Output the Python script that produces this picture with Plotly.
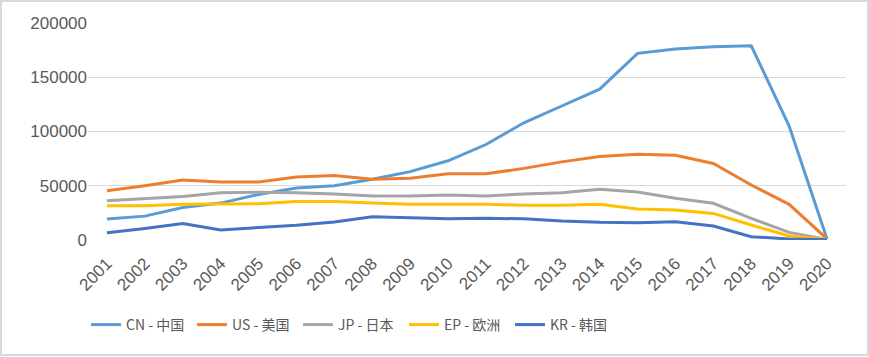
import plotly.graph_objects as go

years = [str(y) for y in range(2001, 2021)]
cn = [19400, 22000, 30000, 34000, 42000, 48000, 50000, 56000, 63000, 73000,
      88000, 108000, 123500, 139000, 172000, 176000, 178000, 179000, 105000, 1000]
us = [45400, 50000, 55300, 53500, 53500, 58000, 59500, 56000, 57000, 61000,
      61000, 66000, 72000, 77000, 79000, 78000, 70500, 50700, 32900, 1000]
jp = [36200, 38000, 40000, 43600, 44000, 43500, 42500, 40500, 40500, 41500,
      40500, 42500, 43500, 46700, 44200, 38400, 33800, 20000, 7000, 500]
ep = [31600, 31500, 33000, 33000, 33500, 35500, 35500, 34000, 33000, 33000,
      33000, 32000, 32000, 32900, 28600, 27600, 24500, 13800, 3700, 500]
kr = [6700, 10500, 15300, 9200, 11500, 13500, 16500, 21500, 20500, 19500,
      20000, 19500, 17500, 16300, 16000, 16900, 12900, 3000, 1000, 300]

names = ["CN - 中国", "US - 美国", "JP - 日本", "EP - 欧洲", "KR - 韩国"]
colors = ["#5B9BD5", "#ED7D31", "#A5A5A5", "#FFC000", "#4472C4"]
series = [cn, us, jp, ep, kr]

fig = go.Figure()
for n, c, s in zip(names, colors, series):
    fig.add_trace(go.Scatter(x=years, y=s, name=n, mode="lines",
                             line=dict(color=c, width=3)))

L, R, T, B = 88, 846, 23, 240
W, H = 869, 357
pw, ph = R - L, B - T

fig.update_layout(
    width=W, height=H,
    margin=dict(l=L, r=W - R, t=T, b=H - B, autoexpand=False),
    paper_bgcolor="white", plot_bgcolor="white",
    font=dict(family="Liberation Sans, Noto Sans CJK SC", color="#595959"),
    xaxis=dict(type="category", range=[-0.5, 19.5], showgrid=False,
               showline=False, ticks="outside", ticklen=6,
               tickcolor="rgba(0,0,0,0)", tickangle=-45, automargin=False,
               tickfont=dict(size=17, color="#595959"), zeroline=False),
    yaxis=dict(range=[0, 200000], dtick=50000, showgrid=True,
               gridcolor="#D9D9D9", gridwidth=1, zeroline=False,
               tickformat="d", tickfont=dict(size=17, color="#595959"),
               ticks="", showline=False, automargin=False),
    legend=dict(orientation="h", x=(86 - L) / pw, xanchor="left",
                y=(B - 325) / ph, yanchor="middle",
                font=dict(size=14, color="#595959",
                          family="Liberation Sans Narrow, Noto Sans CJK SC"),
                entrywidth=61, entrywidthmode="pixels", itemwidth=30,
                bgcolor="rgba(0,0,0,0)"),
    showlegend=True,
)

fig.add_shape(type="rect", xref="paper", yref="paper",
              x0=(1 - L) / pw, x1=(868 - L) / pw,
              y0=(B - 355) / ph, y1=(B - 1) / ph,
              line=dict(color="#D9D9D9", width=2), layer="below")

fig.write_html("out.html", config={"displayModeBar": False},
               post_script="document.body.style.margin='0';document.body.style.overflow='hidden';")
